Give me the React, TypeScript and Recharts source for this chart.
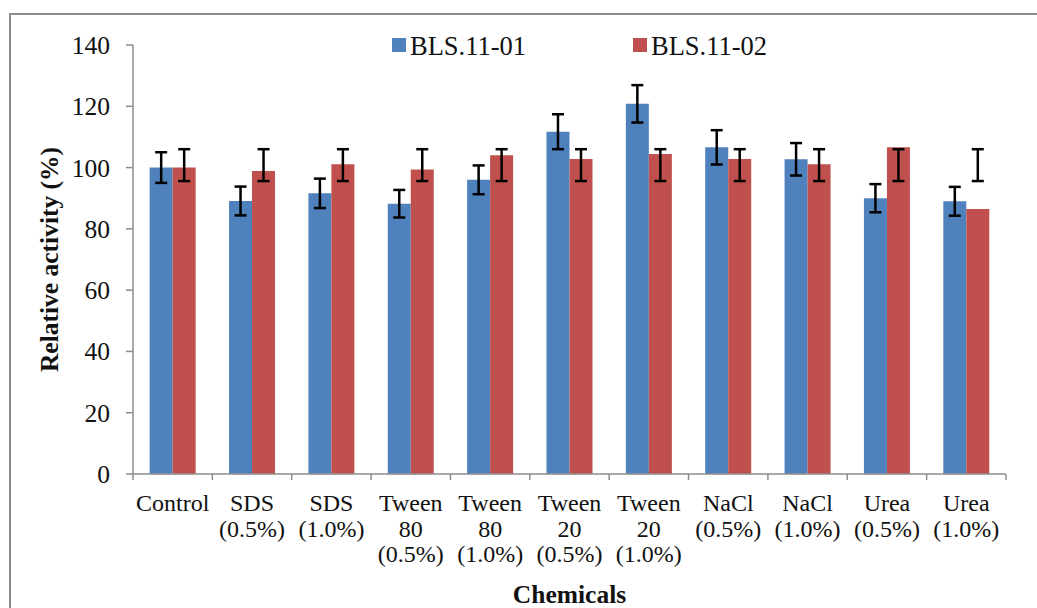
import React from 'react';
import { BarChart, Bar, XAxis, YAxis, ErrorBar, Legend } from 'recharts';

const categories = [
  'Control',
  'SDS (0.5%)',
  'SDS (1.0%)',
  'Tween 80 (0.5%)',
  'Tween 80 (1.0%)',
  'Tween 20 (0.5%)',
  'Tween 20 (1.0%)',
  'NaCl (0.5%)',
  'NaCl (1.0%)',
  'Urea (0.5%)',
  'Urea (1.0%)',
];
const seriesNames = ['BLS.11-01', 'BLS.11-02'];
const bls01 = [100.0, 89.1, 91.6, 88.2, 96.0, 111.7, 120.8, 106.6, 102.7, 90.0, 89.0];
const bls01Err = [5.0, 4.7, 4.8, 4.5, 4.7, 5.7, 6.1, 5.6, 5.3, 4.6, 4.7];
const bls02 = [100.0, 98.9, 101.1, 99.4, 104.0, 102.8, 104.4, 102.8, 101.1, 106.6, 86.5];
// error bar ends (absolute values) of the second series as drawn
const bls02ErrLow = [95.6, 95.6, 95.6, 95.6, 95.6, 95.6, 95.6, 95.6, 95.6, 95.6, 95.6];
const bls02ErrHigh = [106.0, 106.0, 106.0, 106.0, 106.0, 106.0, 106.0, 106.0, 106.0, 106.0, 106.0];
const yTicks = [0, 20, 40, 60, 80, 100, 120, 140];

const data = categories.map((c, i) => ({
  name: c,
  a: bls01[i],
  aErr: bls01Err[i],
  b: bls02[i],
  bErr: [bls02[i] - bls02ErrLow[i], bls02ErrHigh[i] - bls02[i]],
}));

const FONT = '"Liberation Serif", "Times New Roman", serif';
const AXIS = '#8c8c8c';
const TEXT = '#111';
const W = 1037;
const H = 608;
const M = { top: 45, right: 31, bottom: 14, left: 10 };
const Y_W = 123;
const X_H = 120;
const PLOT_W = W - M.left - M.right - Y_W;
const STEP = PLOT_W / categories.length;

const XTick = (props: any) => {
  const { x, y, payload, index } = props;
  const lines = String(payload.value).split(' ');
  return (
    <g>
      <line x1={x - STEP / 2} y1={y} x2={x - STEP / 2} y2={y + 6} stroke={AXIS} strokeWidth={1.5} />
      {index === categories.length - 1 && (
        <line x1={x + STEP / 2} y1={y} x2={x + STEP / 2} y2={y + 6} stroke={AXIS} strokeWidth={1.5} />
      )}
      <text x={x} y={y + 37} textAnchor="middle" fontFamily={FONT} fontSize={24} fill={TEXT}>
        {lines.map((l, i) => (
          <tspan key={i} x={x} dy={i === 0 ? 0 : 25.5}>
            {l}
          </tspan>
        ))}
      </text>
    </g>
  );
};

const LegendContent = (props: any) => {
  const payload = props.payload || [];
  const xs = [392, 633];
  return (
    <svg width={W} height={44} style={{ display: 'block' }}>
      {payload.map((e: any, i: number) => (
        <g key={i}>
          <rect x={xs[i]} y={16} width={14} height={14} fill={e.color} />
          <text x={xs[i] + 18} y={33} fontFamily={FONT} fontSize={26.5} fill={TEXT}>
            {e.value}
          </text>
        </g>
      ))}
    </svg>
  );
};

export default function App() {
  return (
    <div style={{ position: 'absolute', left: 0, top: 0, width: W, height: H, background: '#fff' }}>
      <div
        style={{
          position: 'absolute',
          left: 9,
          top: 13,
          width: W - 9,
          height: H - 13,
          borderTop: `2px solid ${AXIS}`,
          borderLeft: `2px solid ${AXIS}`,
          boxSizing: 'border-box',
        }}
      />
      <div style={{ position: 'absolute', left: 0, top: 0 }}>
        <BarChart width={W} height={H} data={data} margin={M} barCategoryGap="21%" barGap={0}>
          <XAxis
            dataKey="name"
            interval={0}
            height={X_H}
            tickSize={0}
            tickMargin={0}
            tickLine={false}
            axisLine={{ stroke: AXIS, strokeWidth: 1.5 }}
            tick={<XTick />}
            label={() => (
              <text x={M.left + Y_W + PLOT_W / 2} y={603} textAnchor="middle" fontFamily={FONT} fontSize={25.5} fontWeight="bold" fill={TEXT}>
                Chemicals
              </text>
            )}
          />
          <YAxis
            domain={[0, 140]}
            ticks={yTicks}
            width={Y_W}
            tickSize={7}
            tickMargin={16}
            axisLine={{ stroke: AXIS, strokeWidth: 1.5 }}
            tickLine={{ stroke: AXIS, strokeWidth: 1.5 }}
            tick={{ fontFamily: FONT, fontSize: 25.5, fill: TEXT }}
            label={() => (
              <text
                x={49}
                y={259.5}
                transform="rotate(-90, 49, 259.5)"
                textAnchor="middle"
                dominantBaseline="central"
                fontFamily={FONT}
                fontSize={25.5}
                fontWeight="bold"
                fill={TEXT}
              >
                Relative activity (%)
              </text>
            )}
          />
          <Legend
            layout="horizontal"
            verticalAlign="middle"
            align="center"
            wrapperStyle={{ top: 22, left: 0, width: W, height: 44 }}
            content={<LegendContent />}
          />
          <Bar dataKey="a" name={seriesNames[0]} fill="#4F81BD" isAnimationActive={false}>
            <ErrorBar dataKey="aErr" width={6} stroke="#000" strokeWidth={2.5} direction="y" />
          </Bar>
          <Bar dataKey="b" name={seriesNames[1]} fill="#C0504D" isAnimationActive={false}>
            <ErrorBar dataKey="bErr" width={6} stroke="#000" strokeWidth={2.5} direction="y" />
          </Bar>
        </BarChart>
      </div>
    </div>
  );
}
